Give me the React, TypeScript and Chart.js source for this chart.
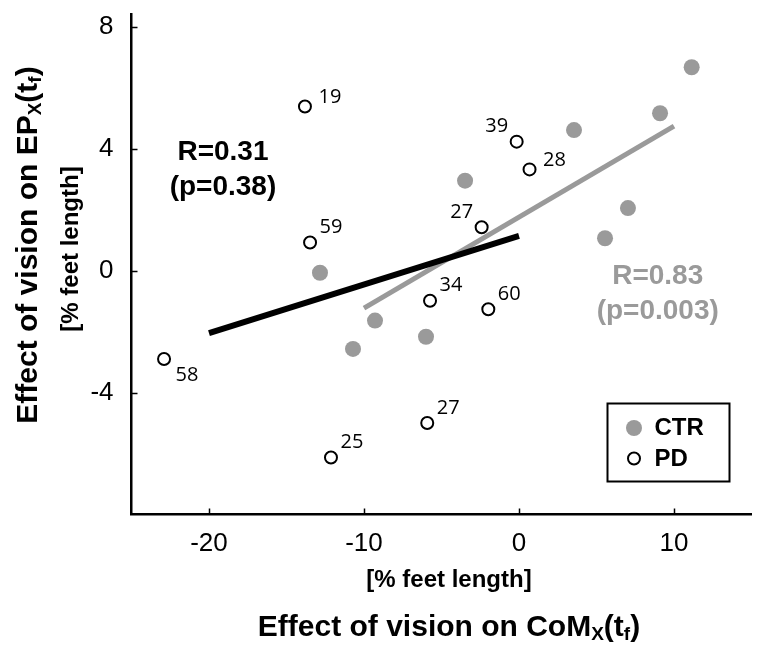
import React, { useEffect, useRef } from 'react';
import { Chart, registerables } from 'chart.js';

Chart.register(...registerables);

// ---- data ----
const ctrX = [11.14, 9.1, 3.55, -3.48, 7.03, 5.55, -12.84, -9.29, -10.71, -6.0];
const ctrY = [6.67, 5.16, 4.61, 2.95, 2.05, 1.06, -0.07, -1.64, -2.57, -2.17];
const pdX = [-13.81, -0.15, 0.68, -2.41, -13.48, -5.74, -1.98, -22.9, -12.13, -5.92];
const pdY = [5.38, 4.23, 3.32, 1.42, 0.92, -0.99, -1.27, -2.9, -6.13, -5.0];
const pdIds = ['19', '39', '28', '27', '59', '34', '60', '58', '25', '27'];
const pdLabelSide = ['r', 'ul', 'r', 'ul', 'ur', 'ur', 'ur', 'lr', 'ur', 'ur'];
const pdFitX = [-20, 0];
const pdFitY = [-2.05, 1.14];
const ctrFitX = [-10, 10];
const ctrFitY = [-1.23, 4.74];
const xTicks = [-20, -10, 0, 10];
const yTicks = [8, 4, 0, -4];
const xRange = [-25, 15];
const yRange = [-8, 8.4];
const pdStat = ['R=0.31', '(p=0.38)'];
const pdStatAt = [-19.1, 3.88, 2.74];
const ctrStat = ['R=0.83', '(p=0.003)'];
const ctrStatAt = [8.95, -0.2, -1.35];
const seriesNames = ['CTR', 'PD'];
const xTitleParts: [string, boolean][] = [['Effect of vision on CoM', false], ['X', true], ['(t', false], ['f', true], [')', false]];
const yTitleParts: [string, boolean][] = [['Effect of vision on EP', false], ['X', true], ['(t', false], ['f', true], [')', false]];
const unitLabel = '[% feet length]';

const GRAY = '#9a9a9a';
const FONT = '"Liberation Sans", Arial, Helvetica, sans-serif';

const labelOffsets: Record<string, [number, number]> = {
  r: [25, -9],
  ur: [21, -15],
  ul: [-20, -15],
  lr: [23, 16],
};

function drawRich(ctx: CanvasRenderingContext2D, parts: [string, boolean][], x: number, y: number, size: number, rotate: boolean) {
  const main = `bold ${size}px ${FONT}`;
  const sub = `bold ${Math.round(size * 0.62)}px ${FONT}`;
  let total = 0;
  const widths = parts.map(([t, s]) => {
    ctx.font = s ? sub : main;
    const w = ctx.measureText(t).width;
    total += w;
    return w;
  });
  ctx.save();
  ctx.translate(x, y);
  if (rotate) ctx.rotate(-Math.PI / 2);
  ctx.fillStyle = '#000';
  ctx.textBaseline = 'alphabetic';
  ctx.textAlign = 'left';
  let cx = -total / 2;
  parts.forEach(([t, s], i) => {
    ctx.font = s ? sub : main;
    ctx.fillText(t, cx, s ? size * 0.12 : 0);
    cx += widths[i];
  });
  ctx.restore();
}

const decorPlugin = {
  id: 'decor',
  afterDatasetsDraw(chart: any) {
    const ctx: CanvasRenderingContext2D = chart.ctx;
    const xs = chart.scales.x;
    const ys = chart.scales.y;
    const area = chart.chartArea;
    ctx.save();
    // inward ticks
    ctx.strokeStyle = '#000';
    ctx.lineWidth = 1.5;
    xTicks.forEach((v) => {
      const px = Math.round(xs.getPixelForValue(v)) + 0.5;
      ctx.beginPath();
      ctx.moveTo(px, area.bottom);
      ctx.lineTo(px, area.bottom - 6);
      ctx.stroke();
    });
    yTicks.forEach((v) => {
      const py = Math.round(ys.getPixelForValue(v)) + 0.5;
      ctx.beginPath();
      ctx.moveTo(area.left, py);
      ctx.lineTo(area.left + 6, py);
      ctx.stroke();
    });

    // point id labels
    const meta = chart.getDatasetMeta(0);
    ctx.font = `20px "Open Sans", "DejaVu Sans", sans-serif`;
    ctx.fillStyle = '#000';
    ctx.textAlign = 'center';
    ctx.textBaseline = 'middle';
    meta.data.forEach((pt: any, i: number) => {
      const off = labelOffsets[pdLabelSide[i]];
      ctx.fillText(pdIds[i], pt.x + off[0], pt.y + off[1]);
    });

    // statistics text
    const drawStat = (lines: string[], at: number[], color: string) => {
      ctx.font = `bold 28px ${FONT}`;
      ctx.fillStyle = color;
      ctx.textAlign = 'center';
      ctx.textBaseline = 'middle';
      const px = xs.getPixelForValue(at[0]);
      ctx.fillText(lines[0], px, ys.getPixelForValue(at[1]));
      ctx.fillText(lines[1], px, ys.getPixelForValue(at[2]));
    };
    drawStat(pdStat, pdStatAt, '#000');
    drawStat(ctrStat, ctrStatAt, GRAY);

    // legend box
    const bx = area.right - 144;
    const by = area.bottom - 111;
    const bw = 122;
    const bh = 78;
    ctx.lineWidth = 2;
    ctx.strokeStyle = '#000';
    ctx.fillStyle = '#fff';
    ctx.fillRect(bx, by, bw, bh);
    ctx.strokeRect(bx, by, bw, bh);
    ctx.beginPath();
    ctx.arc(bx + 26.5, by + 24.5, 8, 0, Math.PI * 2);
    ctx.fillStyle = GRAY;
    ctx.fill();
    ctx.beginPath();
    ctx.arc(bx + 26.5, by + 55, 6, 0, Math.PI * 2);
    ctx.fillStyle = '#fff';
    ctx.fill();
    ctx.lineWidth = 2;
    ctx.stroke();
    ctx.fillStyle = '#000';
    ctx.font = `bold 24px ${FONT}`;
    ctx.textAlign = 'left';
    ctx.textBaseline = 'middle';
    ctx.fillText(seriesNames[0], bx + 47, by + 25);
    ctx.fillText(seriesNames[1], bx + 47, by + 56);

    // axis titles
    drawRich(ctx, xTitleParts, 449, 636, 30, false);
    drawRich(ctx, yTitleParts, 37, 245, 30, true);
    ctx.font = `bold 24px ${FONT}`;
    ctx.fillStyle = '#000';
    ctx.textAlign = 'center';
    ctx.textBaseline = 'alphabetic';
    ctx.fillText(unitLabel, 449, 587);
    ctx.save();
    ctx.translate(78, 249);
    ctx.rotate(-Math.PI / 2);
    ctx.fillText(unitLabel, 0, 0);
    ctx.restore();
    ctx.restore();
  },
};

export default function App() {
  const ref = useRef<HTMLCanvasElement | null>(null);
  useEffect(() => {
    document.body.style.margin = '0';
    const canvas = ref.current;
    if (!canvas) return;
    const chart = new Chart(canvas, {
      type: 'scatter',
      data: {
        datasets: [
          {
            label: seriesNames[1],
            data: pdX.map((x, i) => ({ x, y: pdY[i] })),
            pointRadius: 6,
            pointBorderWidth: 2,
            pointBorderColor: '#000',
            pointBackgroundColor: '#fff',
            showLine: false,
          },
          {
            label: seriesNames[0],
            data: ctrX.map((x, i) => ({ x, y: ctrY[i] })),
            pointRadius: 8,
            pointBorderWidth: 0,
            pointBackgroundColor: GRAY,
            showLine: false,
          },
          {
            label: 'PD fit',
            data: pdFitX.map((x, i) => ({ x, y: pdFitY[i] })),
            showLine: true,
            borderColor: '#000',
            borderWidth: 6,
            pointRadius: 0,
            borderCapStyle: 'butt',
          },
          {
            label: 'CTR fit',
            data: ctrFitX.map((x, i) => ({ x, y: ctrFitY[i] })),
            showLine: true,
            borderColor: GRAY,
            borderWidth: 5,
            pointRadius: 0,
            borderCapStyle: 'butt',
          },
        ],
      },
      options: {
        animation: false,
        responsive: false,
        maintainAspectRatio: false,
        layout: { padding: { top: 14.5, right: 12.5, left: 0, bottom: 0 } },
        plugins: { legend: { display: false }, tooltip: { enabled: false } },
        scales: {
          x: {
            type: 'linear',
            min: xRange[0],
            max: xRange[1],
            grid: { display: false, drawTicks: false },
            border: { display: true, color: '#000', width: 2.5 },
            ticks: { font: { family: FONT, size: 26 }, color: '#000', padding: 14 },
            afterBuildTicks: (s: any) => { s.ticks = xTicks.map((v) => ({ value: v })); },
            afterFit: (s: any) => { s.height = 139.5; s.paddingLeft = 0; s.paddingRight = 0; },
          },
          y: {
            type: 'linear',
            min: yRange[0],
            max: yRange[1],
            grid: { display: false, drawTicks: false },
            border: { display: true, color: '#000', width: 2.5 },
            ticks: { font: { family: FONT, size: 26 }, color: '#000', padding: 18 },
            afterBuildTicks: (s: any) => { s.ticks = yTicks.map((v) => ({ value: v })); },
            afterFit: (s: any) => { s.width = 131.5; s.paddingTop = 0; s.paddingBottom = 0; },
          },
        },
      },
      plugins: [decorPlugin],
    } as any);
    return () => chart.destroy();
  }, []);
  return (
    <div style={{ width: 764, height: 654 }}>
      <canvas ref={ref} width={764} height={654} style={{ display: 'block' }} />
    </div>
  );
}
